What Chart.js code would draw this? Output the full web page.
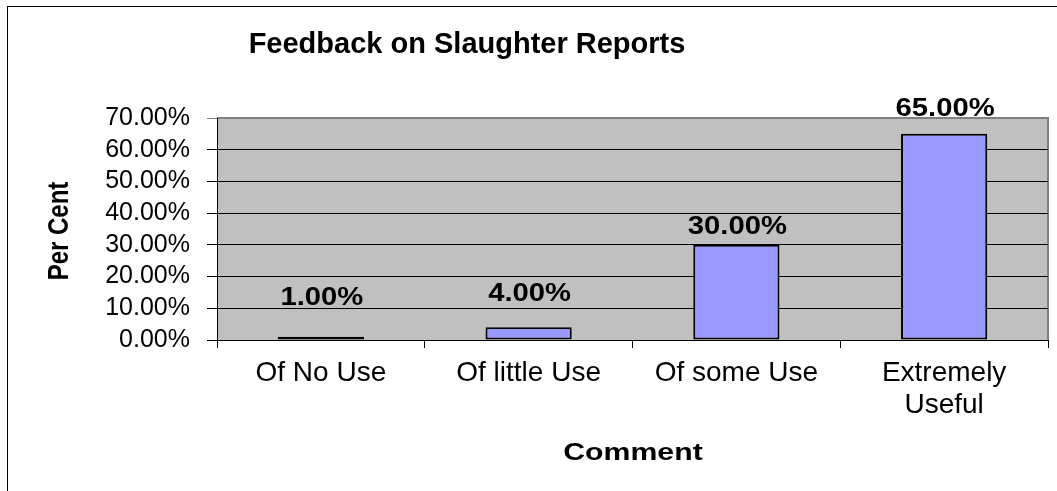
<!DOCTYPE html>
<html>
<head>
<meta charset="utf-8">
<script src="https://cdn.jsdelivr.net/npm/chart.js@4/dist/chart.umd.min.js"></script>
<style>
    html, body { margin: 0; padding: 0; background: #fff; overflow: hidden; }
    #wrap { position: relative; width: 1057px; height: 491px; }
    #frame {
        position: absolute; left: 7px; top: 6px; width: 1100px; height: 600px;
        border-left: 1px solid #000; border-top: 1px solid #000;
    }
    canvas { position: absolute; left: 0; top: 0; }
</style>
</head>
<body>
<div id="wrap">
    <div id="frame"></div>
    <canvas id="chart" width="1057" height="491"></canvas>
</div>
<script>
const categories = ["Of No Use", "Of little Use", "Of some Use", ["Extremely", "Useful"]];
const percentValues = [1, 4, 30, 65];
const yMax = 70;
const yStep = 10;

const chartTitle = "Feedback on Slaughter Reports";
const yTitle = "Per Cent";
const xTitle = "Comment";

const FONT = "'Liberation Sans', Arial, sans-serif";

// how far each value label sits above its bar (style only)
const labelGap = [32, 26, 11, 18];

function drawText(ctx, text, x, y, font, sx, rot) {
    ctx.save();
    ctx.translate(x, y);
    if (rot) ctx.rotate(rot);
    if (rot) ctx.scale(1, sx); else ctx.scale(sx, 1);
    ctx.font = font;
    ctx.fillStyle = "#000";
    ctx.textAlign = "center";
    ctx.textBaseline = "alphabetic";
    ctx.fillText(text, 0, 0);
    ctx.restore();
}

const excelLook = {
    id: "excelLook",
    beforeDraw(chart) {
        const { ctx, chartArea: a } = chart;
        ctx.save();
        ctx.fillStyle = "#C0C0C0";
        ctx.fillRect(a.left, a.top, a.right - a.left, a.bottom - a.top);
        ctx.strokeStyle = "#808080";
        ctx.lineWidth = 2;
        ctx.beginPath();
        ctx.moveTo(a.left, a.top);
        ctx.lineTo(a.right, a.top);
        ctx.lineTo(a.right, a.bottom);
        ctx.stroke();
        ctx.restore();
    },
    afterDatasetsDraw(chart) {
        const { ctx } = chart;
        const meta = chart.getDatasetMeta(0);
        meta.data.forEach((bar, i) => {
            const v = chart.data.datasets[0].data[i];
            drawText(ctx, v.toFixed(2) + "%", bar.x + 1, bar.y - labelGap[i],
                "bold 25px " + FONT, 1.17);
        });
    },
    afterDraw(chart) {
        const { ctx } = chart;
        drawText(ctx, chartTitle, 467, 53, "bold 29px " + FONT, 1.0);
        drawText(ctx, xTitle, 633, 460, "bold 24px " + FONT, 1.26);
        drawText(ctx, yTitle, 68, 231, "bold 24px " + FONT, 1.25, -Math.PI / 2);
    }
};

new Chart(document.getElementById("chart"), {
    type: "bar",
    data: {
        labels: categories,
        datasets: [{
            data: percentValues,
            backgroundColor: "#9999FF",
            borderColor: "#000",
            borderWidth: 2,
            borderSkipped: false,
            barPercentage: 0.415,
            categoryPercentage: 1
        }]
    },
    options: {
        responsive: false,
        animation: false,
        devicePixelRatio: 1,
        layout: { padding: { top: 118, right: 9, left: 0, bottom: 0 } },
        plugins: {
            legend: { display: false },
            title: { display: false },
            tooltip: { enabled: false }
        },
        scales: {
            x: {
                afterFit(scale) { scale.height = 151; },
                grid: {
                    offset: true,
                    drawOnChartArea: false,
                    tickLength: 8,
                    color: "#000",
                    lineWidth: 1
                },
                border: { color: "#000", width: 1 },
                ticks: {
                    color: "#000",
                    padding: 9,
                    maxRotation: 0,
                    autoSkip: false,
                    font: { family: FONT, size: 28, lineHeight: 1.15 }
                }
            },
            y: {
                min: 0,
                max: yMax,
                afterFit(scale) { scale.width = 217; },
                grid: {
                    tickLength: 10,
                    color: ctx => ctx.tick && ctx.tick.value === yMax ? "#808080" : "#000",
                    lineWidth: 1
                },
                border: { color: "#000", width: 1 },
                ticks: {
                    stepSize: yStep,
                    autoSkip: false,
                    color: "#000",
                    padding: 17,
                    font: { family: FONT, size: 25 },
                    callback: v => Number(v).toFixed(2) + "%"
                }
            }
        }
    },
    plugins: [excelLook]
});
</script>
</body>
</html>
